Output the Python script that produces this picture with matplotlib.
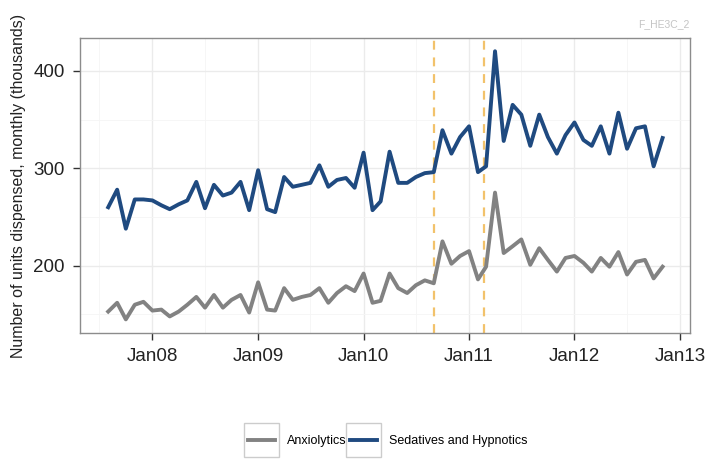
import numpy as np
import pandas as pd
import matplotlib
matplotlib.use("Agg")
import matplotlib.pyplot as plt
import matplotlib.dates as mdates
from matplotlib.patches import Rectangle

plt.rcParams['font.family'] = ['Liberation Sans', 'DejaVu Sans']

# monthly series, Aug 2007 - Nov 2012 (thousands of units)
months = pd.date_range("2007-08-01", "2012-11-01", freq="MS")

sedatives = [260, 278, 238, 268, 268,
             267, 262, 258, 263, 267, 286, 259, 283, 272, 275, 286, 257,
             298, 258, 255, 291, 281, 283, 285, 303, 281, 288, 290, 280,
             316, 257, 266, 317, 285, 285, 291, 295, 296, 339, 315, 332,
             343, 296, 302, 420, 328, 365, 355, 323, 355, 332, 315, 334,
             347, 329, 323, 343, 315, 357, 320, 341, 343, 302, 331]

anxiolytics = [153, 162, 145, 160, 163,
               154, 155, 148, 153, 160, 168, 157, 170, 157, 165, 170, 152,
               183, 155, 154, 177, 165, 168, 170, 177, 162, 172, 179, 174,
               192, 162, 164, 192, 177, 172, 180, 185, 182, 225, 202, 210,
               215, 186, 199, 275, 213, 220, 227, 201, 218, 206, 194, 208,
               210, 203, 194, 208, 199, 214, 191, 204, 206, 187, 199]

event_dates = pd.to_datetime(["2010-09-01", "2011-02-22"])
series_names = ["Anxiolytics", "Sedatives and Hypnotics"]

fig = plt.figure(figsize=(7.07, 4.59), dpi=100)
ax = fig.add_axes([0.113, 0.2745, 0.863, 0.6425])

for d in event_dates:
    ax.axvline(d, color="#f2c26b", linestyle=(0, (4, 3.5)), lw=1.6, zorder=2)

l1, = ax.plot(months, anxiolytics, color="#828282", lw=2.8, zorder=3)
l2, = ax.plot(months, sedatives, color="#1f4a80", lw=2.8, zorder=3)

ax.set_ylim(131, 433.5)
ax.set_xlim(pd.Timestamp("2007-04-25"), pd.Timestamp("2013-02-04"))

ax.xaxis.set_major_locator(mdates.YearLocator())
ax.xaxis.set_minor_locator(mdates.MonthLocator(bymonth=7))
ax.xaxis.set_major_formatter(mdates.DateFormatter("Jan%y"))
ax.set_yticks([200, 300, 400])
ax.set_yticks([150, 250, 350], minor=True)

ax.grid(which="major", color="#ebebeb", lw=1.0, zorder=0)
ax.grid(which="minor", color="#f5f5f5", lw=0.6, zorder=0)
ax.set_axisbelow(True)

for s in ax.spines.values():
    s.set_color("#8c8c8c")
    s.set_linewidth(1.0)

ax.tick_params(which="major", length=5, width=1.0, color="#333333",
               labelsize=13.5, labelcolor="#222222", pad=6)
ax.tick_params(which="minor", length=0)

ax.set_ylabel("Number of units dispensed, monthly (thousands)", fontsize=11.5,
              color="#222222", labelpad=5)

fig.text(0.975, 0.936, "F_HE3C_2", fontsize=7.5, color="#c4c4c4", ha="right", va="bottom")

leg = fig.legend([l1, l2], series_names, loc="center", bbox_to_anchor=(0.548, 0.039),
                 ncol=2, frameon=False, fontsize=9, handlelength=2.2,
                 columnspacing=0.3, handletextpad=0.9)

# ggplot-style boxes around each legend key
fig.canvas.draw()
inv = fig.transFigure.inverted()
for h in leg.legend_handles:
    bb = h.get_window_extent()
    cx = (bb.x0 + bb.x1) / 2
    cy = (bb.y0 + bb.y1) / 2
    w, hgt = 35, 34
    (x0, y0) = inv.transform((cx - w / 2, cy - hgt / 2))
    (x1, y1) = inv.transform((cx + w / 2, cy + hgt / 2))
    fig.patches.append(Rectangle((x0, y0), x1 - x0, y1 - y0, transform=fig.transFigure,
                                 fill=False, edgecolor="#cccccc", lw=1.0))

fig.savefig("out.png", dpi=100)
